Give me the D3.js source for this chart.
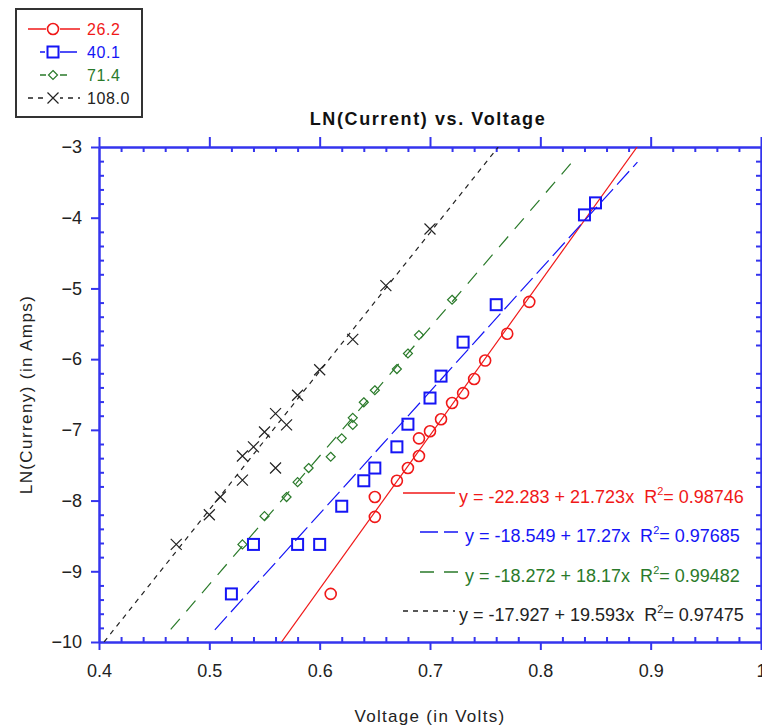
<!DOCTYPE html>
<html>
<head>
<meta charset="utf-8">
<script src="https://cdn.jsdelivr.net/npm/d3@7"></script>
<style>
  body { margin: 0; background: #fff; }
  text { font-family: "Liberation Sans", Arial, sans-serif; }
  .tick text { font-size: 18px; fill: #222; }
</style>
</head>
<body>
<div id="chart"></div>
<script>
// data
const seriesNames = ["26.2", "40.1", "71.4", "108.0"];

const volt262 = [0.61, 0.65, 0.65, 0.67, 0.68, 0.69, 0.69, 0.70, 0.71, 0.72, 0.73, 0.74, 0.75, 0.77, 0.79];
const lnI262  = [-9.32, -8.23, -7.95, -7.72, -7.54, -7.37, -7.12, -7.02, -6.85, -6.62, -6.48, -6.28, -6.02, -5.64, -5.19];

const volt401 = [0.52, 0.54, 0.58, 0.60, 0.62, 0.64, 0.65, 0.67, 0.68, 0.70, 0.71, 0.73, 0.76, 0.84, 0.85];
const lnI401  = [-9.32, -8.62, -8.62, -8.62, -8.08, -7.72, -7.54, -7.24, -6.92, -6.55, -6.24, -5.76, -5.23, -3.96, -3.79];

const volt714 = [0.53, 0.55, 0.57, 0.58, 0.59, 0.61, 0.62, 0.63, 0.63, 0.64, 0.65, 0.67, 0.68, 0.69, 0.72];
const lnI714  = [-8.62, -8.22, -7.95, -7.74, -7.54, -7.38, -7.12, -6.93, -6.83, -6.61, -6.44, -6.14, -5.92, -5.66, -5.16];

const volt1080 = [0.47, 0.50, 0.51, 0.53, 0.53, 0.54, 0.55, 0.56, 0.56, 0.57, 0.58, 0.60, 0.63, 0.66, 0.70];
const lnI1080  = [-8.62, -8.20, -7.95, -7.71, -7.37, -7.24, -7.03, -7.54, -6.77, -6.93, -6.51, -6.15, -5.72, -4.96, -4.16];

// linear fits printed on the chart
const fitIntercept = [-22.283, -18.549, -18.272, -17.927];
const fitSlope     = [21.723, 17.27, 18.17, 19.593];
const fitR2        = ["0.98746", "0.97685", "0.99482", "0.97475"];
const fitFrom      = [0.5654, 0.505, 0.465, 0.4046];
const fitTo        = [0.8877, 0.888, 0.829, 0.7618];

const xMajor = [0.4, 0.5, 0.6, 0.7, 0.8, 0.9, 1.0];
const yMajor = [-10, -9, -8, -7, -6, -5, -4, -3];

const colors = ["#f01818", "#1515f5", "#2a7a2a", "#222222"];
const dashes = [null, "18,6", "14,10", "5,5"];
const markers = ["circle", "square", "diamond", "cross"];

const allX = [volt262, volt401, volt714, volt1080];
const allY = [lnI262, lnI401, lnI714, lnI1080];

// dimensions
const W = 762, H = 728;
const plot = {left: 99, right: 761, top: 147, bottom: 642};

const svg = d3.select("#chart")
  .append("svg")
    .attr("width", W)
    .attr("height", H);

const x = d3.scaleLinear().domain([0.4, 1.0]).range([plot.left, plot.right]);
const y = d3.scaleLinear().domain([-10, -3]).range([plot.bottom, plot.top]);

const xMinor = d3.range(20, 51).filter(i => i % 5 !== 0).map(i => i / 50);
const yMinor = d3.range(-50, -14).filter(i => i % 5 !== 0).map(i => i / 5);

const axisColor = "#3434ee";

function styleAxis(g) {
  g.selectAll("path.domain").attr("stroke", axisColor).attr("stroke-width", 2);
  g.selectAll(".tick line").attr("stroke", axisColor).attr("stroke-width", 2);
}

// bottom
svg.append("g").attr("transform", `translate(0,${plot.bottom})`)
  .call(d3.axisBottom(x).tickValues(xMinor).tickSize(-5).tickSizeOuter(0).tickFormat(""))
  .call(styleAxis);
svg.append("g").attr("transform", `translate(0,${plot.bottom})`)
  .call(d3.axisBottom(x).tickValues(xMajor).tickSize(8).tickSizeOuter(0).tickPadding(14).tickFormat(d3.format("")))
  .call(styleAxis)
  .call(g => g.selectAll("text").attr("font-family", null));
// top
svg.append("g").attr("transform", `translate(0,${plot.top})`)
  .call(d3.axisTop(x).tickValues(xMinor).tickSize(-5).tickSizeOuter(0).tickFormat(""))
  .call(styleAxis);
svg.append("g").attr("transform", `translate(0,${plot.top})`)
  .call(d3.axisTop(x).tickValues(xMajor).tickSize(10).tickSizeOuter(0).tickFormat(""))
  .call(styleAxis);
// left
svg.append("g").attr("transform", `translate(${plot.left},0)`)
  .call(d3.axisLeft(y).tickValues(yMinor).tickSize(-5).tickSizeOuter(0).tickFormat(""))
  .call(styleAxis);
svg.append("g").attr("transform", `translate(${plot.left},0)`)
  .call(d3.axisLeft(y).tickValues(yMajor).tickSize(8).tickSizeOuter(0).tickPadding(9).tickFormat(d3.format("")))
  .call(styleAxis)
  .call(g => g.selectAll("text").attr("font-family", null));
// right
svg.append("g").attr("transform", `translate(${plot.right},0)`)
  .call(d3.axisRight(y).tickValues(yMinor).tickSize(-5).tickSizeOuter(0).tickFormat(""))
  .call(styleAxis);
svg.append("g").attr("transform", `translate(${plot.right},0)`)
  .call(d3.axisRight(y).tickValues(yMajor).tickSize(8).tickSizeOuter(0).tickFormat(""))
  .call(styleAxis);

svg.selectAll(".tick text").attr("font-size", 18).attr("fill", "#222");

// titles
svg.append("text")
  .attr("x", (plot.left + plot.right) / 2 - 2)
  .attr("y", 125)
  .attr("text-anchor", "middle")
  .attr("font-size", 18)
  .attr("font-weight", "bold")
  .attr("letter-spacing", 1.6)
  .attr("fill", "#111")
  .text("LN(Current) vs. Voltage");

svg.append("text")
  .attr("x", (plot.left + plot.right) / 2)
  .attr("y", 722)
  .attr("text-anchor", "middle")
  .attr("font-size", 17)
  .attr("letter-spacing", 1.3)
  .attr("fill", "#222")
  .text("Voltage (in Volts)");

svg.append("text")
  .attr("transform", `translate(32,${(plot.top + plot.bottom) / 2}) rotate(-90)`)
  .attr("text-anchor", "middle")
  .attr("font-size", 17)
  .attr("letter-spacing", 1.4)
  .attr("fill", "#222")
  .text("LN(Curreny) (in Amps)");

// clip for fit lines
svg.append("defs").append("clipPath").attr("id", "plotclip")
  .append("rect")
    .attr("x", plot.left).attr("y", plot.top)
    .attr("width", plot.right - plot.left).attr("height", plot.bottom - plot.top);

const plotG = svg.append("g").attr("clip-path", "url(#plotclip)");

// fit lines
const fitLine = d3.line().x(d => x(d[0])).y(d => y(d[1]));
seriesNames.forEach((s, i) => {
  const ends = [fitFrom[i], fitTo[i]].map(v => [v, fitIntercept[i] + fitSlope[i] * v]);
  plotG.append("path")
    .datum(ends)
    .attr("d", fitLine)
    .attr("fill", "none")
    .attr("stroke", colors[i])
    .attr("stroke-width", 1.2)
    .attr("stroke-dasharray", dashes[i]);
});

// marker drawing
function drawMarker(g, type, color) {
  if (type === "circle") {
    g.append("circle").attr("r", 5.5).attr("fill", "none").attr("stroke", color).attr("stroke-width", 1.6);
  } else if (type === "square") {
    g.append("rect").attr("x", -5.5).attr("y", -5.5).attr("width", 11).attr("height", 11)
      .attr("fill", "none").attr("stroke", color).attr("stroke-width", 2);
  } else if (type === "diamond") {
    g.append("path").attr("d", "M0,-4.5L4.5,0L0,4.5L-4.5,0Z")
      .attr("fill", "none").attr("stroke", color).attr("stroke-width", 1.2);
  } else {
    g.append("path").attr("d", "M-5.5,-5.5L5.5,5.5M-5.5,5.5L5.5,-5.5")
      .attr("fill", "none").attr("stroke", color).attr("stroke-width", 1.2);
  }
}

// points
seriesNames.forEach((s, i) => {
  const pts = allX[i].map((v, j) => [v, allY[i][j]]);
  svg.append("g").selectAll("g")
    .data(pts)
    .join("g")
      .attr("transform", d => `translate(${x(d[0])},${y(d[1])})`)
      .each(function() { drawMarker(d3.select(this), markers[i], colors[i]); });
});

// equation labels inside the plot
const eqRowY = [493, 532, 572, 611];
const eqSeg = [[403, 455], [420, 458], [420, 458], [403, 455]];
const eqG = svg.append("g");
seriesNames.forEach((s, i) => {
  eqG.append("line")
    .attr("x1", eqSeg[i][0]).attr("x2", eqSeg[i][1])
    .attr("y1", eqRowY[i]).attr("y2", eqRowY[i])
    .attr("stroke", colors[i]).attr("stroke-width", 1.3)
    .attr("stroke-dasharray", dashes[i]);
  const t = eqG.append("text")
    .attr("x", eqSeg[i][1] + 4 + (i === 1 || i === 2 ? 3 : 0))
    .attr("y", eqRowY[i] + 10)
    .attr("font-size", 18)
    .attr("fill", colors[i])
    .style("white-space", "pre");
  t.append("tspan").text(`y = ${fitIntercept[i]} + ${fitSlope[i]}x  R`);
  t.append("tspan").attr("font-size", 11).attr("dy", -8).text("2");
  t.append("tspan").attr("dy", 8).text(`= ${fitR2[i]}`);
});

// legend box top-left
const legend = svg.append("g");
legend.append("rect")
  .attr("x", 16).attr("y", 9).attr("width", 126).attr("height", 108)
  .attr("fill", "#fff").attr("stroke", "#333").attr("stroke-width", 2);

const legendLines = [[28, 80], [40, 77], [40, 68], [28, 80]];
seriesNames.forEach((s, i) => {
  const ly = 29 + i * 23;
  legend.append("line")
    .attr("x1", legendLines[i][0]).attr("x2", legendLines[i][1])
    .attr("y1", ly).attr("y2", ly)
    .attr("stroke", colors[i]).attr("stroke-width", 1.3)
    .attr("stroke-dasharray", i === 1 ? "5,5,30" : i === 2 ? "9,9" : dashes[i]);
  const m = legend.append("g").attr("transform", `translate(53,${ly})`);
  m.append("rect").attr("x", -7).attr("y", -7).attr("width", 14).attr("height", 14).attr("fill", "#fff");
  drawMarker(m, markers[i], colors[i]);
  legend.append("text")
    .attr("x", 87).attr("y", ly + 6)
    .attr("font-size", 16)
    .attr("letter-spacing", 0.6)
    .attr("fill", colors[i])
    .text(s);
});
</script>
</body>
</html>
